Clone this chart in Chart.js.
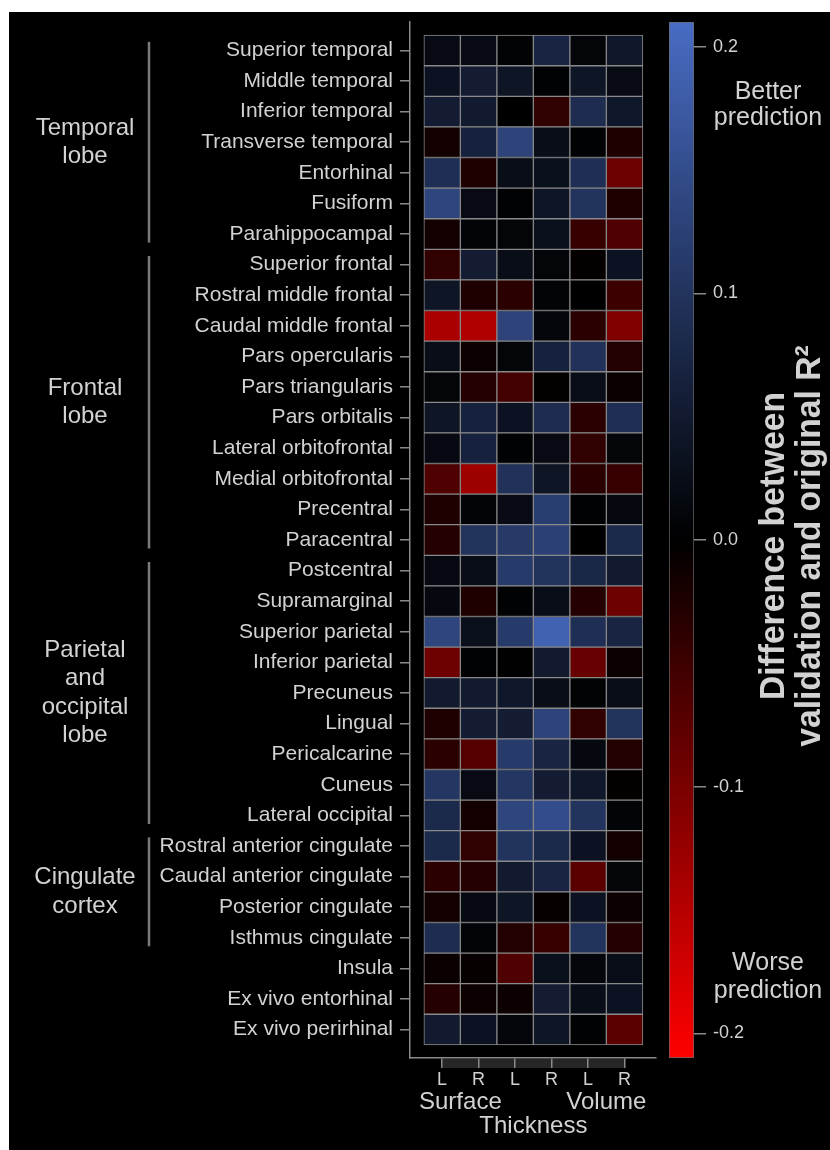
<!DOCTYPE html>
<html>
<head>
<meta charset="utf-8">
<script src="https://cdn.jsdelivr.net/npm/chart.js@4.4.0/dist/chart.umd.min.js"></script>
<style>
  body { margin: 0; background: #fff; }
  #frame { position: absolute; left: 9px; top: 12px; width: 821px; height: 1138px; background: #000; }
  #heat { position: absolute; left: 0; top: 0; }
  #bar { position: absolute; left: 669px; top: 0; }
</style>
</head>
<body>
<div id="frame"></div>
<canvas id="heat" width="830" height="1150"></canvas>
<canvas id="bar" width="161" height="1150"></canvas>
<script>
const regions = [
  'Superior temporal', 'Middle temporal', 'Inferior temporal', 'Transverse temporal',
  'Entorhinal', 'Fusiform', 'Parahippocampal', 'Superior frontal', 'Rostral middle frontal',
  'Caudal middle frontal', 'Pars opercularis', 'Pars triangularis', 'Pars orbitalis',
  'Lateral orbitofrontal', 'Medial orbitofrontal', 'Precentral', 'Paracentral',
  'Postcentral', 'Supramarginal', 'Superior parietal', 'Inferior parietal', 'Precuneus',
  'Lingual', 'Pericalcarine', 'Cuneus', 'Lateral occipital', 'Rostral anterior cingulate',
  'Caudal anterior cingulate', 'Posterior cingulate', 'Isthmus cingulate', 'Insula',
  'Ex vivo entorhinal', 'Ex vivo perirhinal'
];
const columns = ['L', 'R', 'L', 'R', 'L', 'R'];
const measures = ['Surface', 'Thickness', 'Volume'];

// difference between validation and original R2, one array per column
const surfaceL = [0.02, 0.035, 0.055, -0.015, 0.09, 0.135, -0.015, -0.04, 0.04, -0.14, 0.025, 0.01, 0.04, 0.018, -0.065, -0.025, -0.03, 0.018, 0.015, 0.135, -0.09, 0.05, -0.025, -0.035, 0.105, 0.08, 0.08, -0.035, -0.015, 0.085, -0.008, -0.03, 0.05];
const surfaceR = [0.02, 0.055, 0.05, 0.065, -0.025, 0.02, 0.008, 0.055, -0.025, -0.145, -0.01, -0.03, 0.065, 0.065, -0.13, 0.008, 0.1, 0.025, -0.025, 0.03, 0.004, 0.05, 0.055, -0.07, 0.02, -0.015, -0.04, -0.03, 0.018, 0.008, -0.005, -0.01, 0.035];
const thicknessL = [0.005, 0.04, 0.0, 0.13, 0.025, 0.003, 0.01, 0.025, -0.035, 0.13, 0.01, -0.055, 0.035, 0.004, 0.095, 0.022, 0.11, 0.115, 0.003, 0.115, 0.002, 0.045, 0.055, 0.115, 0.105, 0.135, 0.1, 0.05, 0.04, -0.028, -0.065, -0.01, 0.012];
const thicknessR = [0.07, 0.003, -0.04, 0.025, 0.03, 0.04, 0.03, 0.01, 0.008, 0.012, 0.065, -0.003, 0.085, 0.02, 0.04, 0.12, 0.125, 0.1, 0.025, 0.19, 0.05, 0.025, 0.13, 0.07, 0.055, 0.15, 0.08, 0.07, -0.005, -0.045, 0.03, 0.055, 0.04];
const volumeL = [0.01, 0.04, 0.085, 0.003, 0.09, 0.1, -0.045, -0.003, 0.0, -0.035, 0.095, 0.025, -0.035, -0.04, -0.035, 0.003, 0.0, 0.075, -0.03, 0.09, -0.085, 0.005, -0.04, 0.015, 0.045, 0.1, 0.035, -0.075, 0.035, 0.1, 0.012, 0.025, 0.003];
const volumeR = [0.045, 0.02, 0.045, -0.025, -0.09, -0.025, -0.065, 0.035, -0.05, -0.105, -0.028, -0.008, 0.09, 0.01, -0.045, 0.015, 0.08, 0.05, -0.09, 0.07, -0.01, 0.025, 0.1, -0.028, -0.003, 0.008, -0.015, 0.01, -0.01, -0.03, 0.025, 0.035, -0.075];
const series = [surfaceL, surfaceR, thicknessL, thicknessR, volumeL, volumeR];

const groups = [
  { name: ['Temporal', 'lobe'], from: 0, to: 6 },
  { name: ['Frontal', 'lobe'], from: 7, to: 16 },
  { name: ['Parietal', 'and', 'occipital', 'lobe'], from: 17, to: 25 },
  { name: ['Cingulate', 'cortex'], from: 26, to: 29 }
];
const barTicks = [-0.2, -0.1, 0, 0.1, 0.2];
const barRange = [-0.21, 0.21];
const titleLines = ['Difference between', 'validation and original R²'];

const font = "'Liberation Sans', Arial, sans-serif";
const textColor = '#d2d2d2';
const lineColor = '#8a8a8a';

function cellColor(v) {
  const t = Math.min(Math.abs(v) / 0.21, 1);
  if (v >= 0) return `rgb(${Math.round(72 * t)},${Math.round(108 * t)},${Math.round(196 * t)})`;
  return `rgb(${Math.round(255 * t)},0,0)`;
}

const datasets = series.map((vals, c) => ({
  data: vals.map((v, r) => ({ x: [c, c + 1], y: r })),
  backgroundColor: vals.map(cellColor),
  borderColor: lineColor,
  borderWidth: 1,
  borderSkipped: false,
  grouped: false,
  categoryPercentage: 1,
  barPercentage: 1
}));

const groupPlugin = {
  id: 'groups',
  beforeDraw(chart) {
    const { ctx, chartArea, scales: { x } } = chart;
    const x0 = x.getPixelForValue(0.5), x1 = x.getPixelForValue(5.5);
    ctx.save();
    ctx.fillStyle = '#262626';
    ctx.fillRect(x0, chartArea.bottom + 1, x1 - x0, 9);
    ctx.restore();
  },
  afterDraw(chart) {
    const { ctx, scales: { y } } = chart;
    ctx.save();
    ctx.strokeStyle = '#7a7a7a';
    ctx.lineWidth = 2.5;
    ctx.fillStyle = textColor;
    ctx.font = '24px ' + font;
    ctx.textAlign = 'center';
    ctx.textBaseline = 'middle';
    groups.forEach(g => {
      const top = y.getPixelForValue(g.from - 0.28);
      const bottom = y.getPixelForValue(g.to + 0.28);
      ctx.beginPath();
      ctx.moveTo(149, top);
      ctx.lineTo(149, bottom);
      ctx.stroke();
      const mid = (y.getPixelForValue(g.from) + y.getPixelForValue(g.to)) / 2;
      g.name.forEach((line, k) => {
        ctx.fillText(line, 85, mid + (k - (g.name.length - 1) / 2) * 28.5);
      });
    });
    ctx.restore();
  }
};

new Chart(document.getElementById('heat'), {
  type: 'bar',
  data: { datasets },
  options: {
    indexAxis: 'y',
    responsive: false,
    animation: false,
    devicePixelRatio: 1,
    layout: { padding: { left: 0, top: 22, right: 174, bottom: 12 } },
    plugins: { legend: { display: false }, tooltip: { enabled: false } },
    scales: {
      y: {
        type: 'linear',
        reverse: true,
        offset: false,
        min: -0.93,
        max: 32.93,
        afterBuildTicks: s => { s.ticks = regions.map((_, i) => ({ value: i })); },
        afterFit: s => { s.width = 410; },
        grid: { offset: false, drawOnChartArea: false, color: lineColor, tickLength: 10, lineWidth: 1.5 },
        border: { color: lineColor, width: 1.5 },
        ticks: {
          color: textColor, font: { family: font, size: 21 }, padding: 7,
          autoSkip: false, callback: v => regions[v]
        }
      },
      x: {
        type: 'linear',
        position: 'bottom',
        min: -0.38,
        max: 6.36,
        weight: 0,
        afterBuildTicks: s => { s.ticks = columns.map((_, i) => ({ value: i + 0.5 })); },
        afterFit: s => { s.height = 30; },
        grid: { drawOnChartArea: false, color: lineColor, tickLength: 10, lineWidth: 1.5 },
        border: { color: lineColor, width: 1.5 },
        ticks: {
          color: textColor, font: { family: font, size: 18 }, padding: 1,
          autoSkip: false, maxRotation: 0, callback: (v, i) => columns[i]
        }
      },
      x2: {
        type: 'linear',
        axis: 'x',
        position: 'bottom',
        min: -0.38,
        max: 6.36,
        weight: 1,
        afterBuildTicks: s => { s.ticks = measures.map((_, i) => ({ value: 2 * i + 1 })); },
        afterFit: s => { s.height = 50; },
        grid: { display: false, drawTicks: false, tickLength: 0 },
        border: { display: false },
        ticks: {
          color: textColor, font: { family: font, size: 24, lineHeight: 1 }, padding: 2,
          autoSkip: false, maxRotation: 0,
          callback: (v, i) => (i === 1 ? ['', measures[i]] : measures[i])
        }
      }
    }
  },
  plugins: [groupPlugin]
});

// colour bar
const barTextPlugin = {
  id: 'barText',
  afterDraw(chart) {
    const { ctx, scales: { y } } = chart;
    const cx = 99;
    ctx.save();
    ctx.fillStyle = textColor;
    ctx.textAlign = 'center';
    ctx.textBaseline = 'alphabetic';
    ctx.font = '25px ' + font;
    const top = y.getPixelForValue(0.2);
    ctx.fillText('Better', cx, top + 52);
    ctx.fillText('prediction', cx, top + 78);
    const bot = y.getPixelForValue(-0.2);
    ctx.fillText('Worse', cx, bot - 63);
    ctx.fillText('prediction', cx, bot - 35);

    ctx.translate(123, y.getPixelForValue(0) + 6);
    ctx.rotate(-Math.PI / 2);
    ctx.scale(0.96, 1);
    ctx.font = 'bold 35px ' + font;
    ctx.textBaseline = 'middle';
    titleLines.forEach((line, k) => ctx.fillText(line, 0, (k - 0.5) * 36));
    ctx.restore();
  }
};

new Chart(document.getElementById('bar'), {
  type: 'bar',
  data: {
    labels: [''],
    datasets: [{
      data: [barRange],
      backgroundColor: ctx => {
        const chart = ctx.chart;
        if (!chart.chartArea) return '#000';
        const y = chart.scales.y;
        const g = chart.ctx.createLinearGradient(0, y.getPixelForValue(barRange[0]), 0, y.getPixelForValue(barRange[1]));
        for (let i = 0; i <= 20; i++) {
          const v = barRange[0] + (barRange[1] - barRange[0]) * i / 20;
          g.addColorStop(i / 20, cellColor(v));
        }
        return g;
      },
      borderColor: '#6a6a6a',
      borderWidth: 1,
      borderSkipped: false,
      categoryPercentage: 1,
      barPercentage: 1
    }]
  },
  options: {
    responsive: false,
    animation: false,
    devicePixelRatio: 1,
    layout: { padding: { left: 0, top: 22, right: 0, bottom: 92 } },
    plugins: { legend: { display: false }, tooltip: { enabled: false } },
    scales: {
      x: { display: false },
      y: {
        position: 'right',
        min: barRange[0],
        max: barRange[1],
        afterBuildTicks: s => { s.ticks = barTicks.map(v => ({ value: v })); },
        afterFit: s => { s.width = 136; },
        grid: { drawOnChartArea: false, color: lineColor, tickLength: 12, lineWidth: 1.5 },
        border: { display: false },
        ticks: {
          color: textColor, font: { family: font, size: 18 }, padding: 7,
          callback: v => v.toFixed(1)
        }
      }
    }
  },
  plugins: [barTextPlugin]
});
</script>
</body>
</html>
